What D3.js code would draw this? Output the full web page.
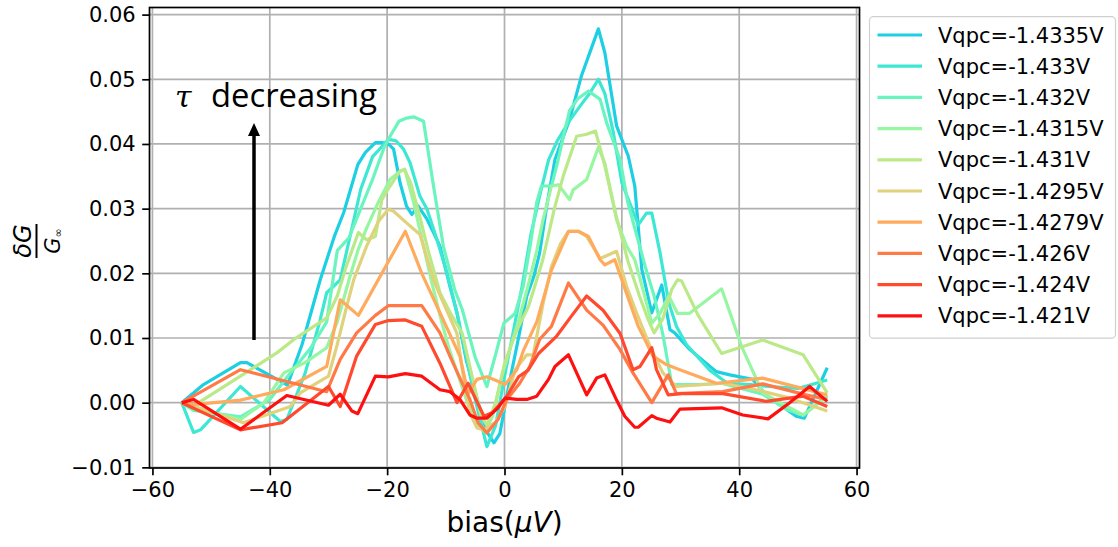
<!DOCTYPE html>
<html><head><meta charset="utf-8">
<script src="https://cdn.jsdelivr.net/npm/d3@7"></script>
<style>body{margin:0;background:#fff} svg{display:block}</style>
</head><body><svg id="c" width="1118" height="547"></svg>
<script>
const labels = ["Vqpc=-1.4335V","Vqpc=-1.433V","Vqpc=-1.432V","Vqpc=-1.4315V","Vqpc=-1.431V","Vqpc=-1.4295V","Vqpc=-1.4279V","Vqpc=-1.426V","Vqpc=-1.424V","Vqpc=-1.421V"];
const colors = ["#1ccfe3","#3ce8d3","#6af5bf","#96f6a2","#bbe988","#e0d27a","#ffab5e","#ff7a47","#ff4a2e","#ff1010"];
const xTicks = [-60,-40,-20,0,20,40,60];
const yTicks = [-0.01,0,0.01,0.02,0.03,0.04,0.05,0.06];

const s1 = [[-55,0],[-51.3,0.0028],[-45,0.0062],[-43.9,0.0062],[-37,0.0027],[-34.5,0.009],[-31.4,0.019],[-29,0.0257],[-27.4,0.0294],[-25,0.0368],[-23.7,0.0387],[-22,0.0402],[-20.9,0.0402],[-19.8,0.04],[-18.9,0.0392],[-17.8,0.034],[-16.7,0.0304],[-15.8,0.0291],[-14.7,0.0304],[-13.3,0.0285],[-12.1,0.0263],[-11,0.0242],[-9.3,0.018],[-8.1,0.0139],[-6.5,0.0065],[-4.5,0.0],[-3,-0.0045],[-1.8,-0.0062],[-0.8,-0.0048],[0.8,0.003],[2.1,0.0087],[3.8,0.0165],[5,0.0195],[6,0.0232],[7.2,0.0304],[8.6,0.0376],[11.1,0.0438],[13.1,0.0505],[16,0.0578],[17.1,0.0541],[19.1,0.0428],[21.1,0.0381],[22.2,0.0335],[23.4,0.0206],[25.1,0.0139],[26.8,0.0182],[28.2,0.0113],[29,0.0108],[31.6,0.0082],[36.1,0.0048],[38.4,0.0043],[42.3,0.0036],[44.6,0.0012],[49.7,-0.0021],[51.1,-0.0024],[55,0.0054]];
const s2 = [[-55,0],[-53,-0.0046],[-51.8,-0.0042],[-45,0.0025],[-38.2,-0.0029],[-37.1,-0.0026],[-34,0.0045],[-31.5,0.0125],[-30.3,0.017],[-28,0.019],[-26.5,0.025],[-24.5,0.033],[-22.5,0.038],[-21,0.0395],[-19.8,0.0407],[-18.5,0.0405],[-17.2,0.0392],[-16.1,0.0371],[-14.4,0.0319],[-13.2,0.0299],[-11.5,0.0252],[-9.8,0.02],[-8.1,0.0139],[-6.5,0.007],[-5,0.0005],[-3,-0.0068],[-1.5,-0.0035],[0,0.004],[1.5,0.011],[3,0.018],[4.5,0.026],[6,0.032],[7.5,0.0375],[9,0.0405],[11,0.0435],[13,0.046],[14.5,0.0478],[16,0.05],[17.1,0.0478],[18.5,0.042],[20,0.034],[21.5,0.0305],[22.8,0.0275],[24.2,0.0293],[25.1,0.0293],[26.5,0.0232],[28,0.0154],[29.3,0.0118],[31,0.009],[35,0.005],[38,0.003],[42,0.0028],[45,0.0025],[50,0.0022],[55,0.0035]];
const s3 = [[-55,0],[-53,-0.0012],[-45,-0.0022],[-40,0.0005],[-37,0.004],[-33,0.0085],[-30.3,0.0125],[-28.5,0.0235],[-26.5,0.0255],[-24.5,0.03],[-22.5,0.0345],[-20.5,0.0395],[-19.5,0.0412],[-18,0.0435],[-16.7,0.044],[-15.5,0.0442],[-13.8,0.0435],[-12.1,0.0335],[-10.4,0.0241],[-8.5,0.0175],[-7.2,0.0144],[-5,0.007],[-3,0.0025],[-1.5,0.0075],[-0.1,0.0123],[1.8,0.0138],[3.2,0.018],[4.5,0.025],[5.5,0.031],[6.3,0.0335],[8,0.0335],[9,0.037],[10,0.041],[11.1,0.0452],[12.5,0.047],[14.3,0.0482],[16.3,0.0469],[17.5,0.043],[19.7,0.0376],[21,0.031],[22.5,0.026],[24,0.021],[25.5,0.0165],[27,0.0105],[28.5,0.0028],[33,0.0028],[37,0.003],[44,0.0013],[48,-0.001],[50.9,-0.002],[55,0.0012]];
const s4 = [[-55,0],[-53,-0.0008],[-45,-0.0026],[-41,0.0],[-37.6,0.0046],[-34,0.0062],[-30.3,0.0085],[-28.5,0.0125],[-26.5,0.019],[-25,0.0235],[-23.5,0.027],[-21.5,0.031],[-19.5,0.0345],[-17.8,0.0358],[-17,0.0361],[-15.5,0.031],[-14,0.025],[-12.5,0.019],[-11,0.0135],[-9.5,0.0085],[-8,0.0045],[-6.5,0.0005],[-5,-0.003],[-3.3,-0.0045],[-2,-0.002],[-0.5,0.004],[1,0.0085],[2.5,0.013],[4,0.018],[5.5,0.0235],[6.5,0.028],[8,0.0335],[9.2,0.0337],[11.1,0.0314],[11.7,0.0329],[14,0.0345],[16,0.0395],[17.1,0.037],[19.1,0.0283],[20.8,0.0242],[22.2,0.0221],[23.6,0.0175],[25.1,0.0123],[26.5,0.0138],[28,0.0165],[29.5,0.0138],[31.5,0.0138],[37,0.0176],[40.5,0.0085],[44,0.0015],[47,0.0],[50.9,-0.0019],[55,0.001]];
const s5 = [[-55,0],[-53,-0.0005],[-45,0.0041],[-38.8,0.0077],[-36,0.0097],[-30.3,0.0131],[-28.5,0.0165],[-27,0.021],[-24.9,0.0263],[-23.5,0.0252],[-22,0.0257],[-20.9,0.0314],[-19.5,0.0335],[-17.8,0.0358],[-17,0.036],[-16,0.034],[-14.5,0.029],[-13,0.0235],[-11,0.017],[-9,0.0135],[-7.2,0.0107],[-5.5,0.004],[-4,-0.002],[-3,-0.0035],[-1.5,0.0],[0,0.006],[2,0.011],[4.1,0.0149],[5.5,0.019],[6.5,0.022],[7.5,0.026],[8.5,0.03],[10,0.035],[12.3,0.0412],[14,0.0415],[15.5,0.042],[17,0.037],[19,0.029],[21,0.022],[23,0.0165],[24.5,0.0128],[25.5,0.0108],[27,0.013],[28.5,0.0175],[29.5,0.019],[30.2,0.0188],[33,0.0135],[37,0.0076],[44,0.0097],[50.9,0.0074],[55,0.0015]];
const s6 = [[-55,0],[-53,-0.0005],[-44.5,-0.0031],[-36.5,-0.0006],[-34.8,0.0015],[-30,0.0041],[-28.5,0.009],[-27,0.0145],[-25.7,0.019],[-23.5,0.0242],[-21.5,0.028],[-19.8,0.0299],[-18.9,0.0296],[-16.7,0.0278],[-14.4,0.026],[-13.5,0.0232],[-12.1,0.019],[-10.4,0.0154],[-8.1,0.0107],[-7,0.004],[-5.9,-0.0016],[-4.7,-0.0039],[-3.6,-0.0042],[-1.6,-0.0031],[0.1,-0.0006],[1.8,0.0051],[3.8,0.0074],[4.9,0.0074],[6.5,0.015],[8,0.021],[9.5,0.0245],[10.9,0.0265],[12.6,0.0265],[14,0.0257],[16.3,0.0223],[19.1,0.0234],[20.8,0.018],[22.5,0.0139],[24.8,0.0087],[27,0.0046],[29.3,0.0025],[37.2,0.003],[42.9,0.002],[48.6,0.0007],[55,-0.0013]];
const s7 = [[-55,0],[-53,-0.0003],[-45,0.0004],[-37.6,0.002],[-30.3,0.0056],[-28,0.0159],[-24.9,0.0135],[-16.9,0.0265],[-14.1,0.02],[-11,0.0139],[-7.6,0.0072],[-6.2,0.0014],[-4.7,0.0036],[-3,0.004],[-1.1,0.0033],[0.1,0.0028],[2.1,0.0051],[3.2,0.008],[5.5,0.0125],[8,0.0205],[10.9,0.0265],[12.6,0.0265],[14.3,0.0257],[16.3,0.0221],[17.1,0.0213],[18.8,0.0221],[20.8,0.0169],[22.8,0.0118],[25.3,0.0072],[27.6,0.0059],[29.3,0.0053],[36.1,0.003],[44,0.0038],[55,0.0012]];
const s8 = [[-55,0],[-45,0.0051],[-30.3,0.0017],[-28,0.0067],[-25.2,0.0108],[-22,0.0135],[-19.8,0.015],[-14.1,0.015],[-11,0.0108],[-9.3,0.0072],[-7.6,0.0038],[-5.9,0.0005],[-4.5,-0.0031],[-3,-0.0047],[-1.1,-0.0026],[0.4,0.0005],[2.6,0.003],[4.3,0.0056],[6,0.0098],[8,0.0118],[10.9,0.0185],[14,0.0143],[16.8,0.012],[19.7,0.0082],[21.9,0.0046],[25.1,0.0],[27.9,0.0043],[29.3,0.0014],[37.2,0.0017],[44,0.0029],[51.4,0.0012],[55,0.0005]];
const s9 = [[-55,0],[-45,-0.0042],[-37.9,-0.0031],[-30,0.0025],[-28,-0.0006],[-25.2,0.0072],[-22,0.0121],[-19.8,0.0127],[-16.9,0.0128],[-14.1,0.0118],[-11,0.0061],[-8.1,0.0],[-6.2,0.003],[-3.5,-0.0021],[-2,-0.0015],[0.4,0.001],[2.4,0.004],[4,0.005],[5.8,0.0076],[8.9,0.0103],[11.5,0.0135],[14,0.0165],[16.8,0.0143],[19.7,0.0107],[21.9,0.0051],[23.1,0.0056],[25.1,0.0085],[25.9,0.0051],[27.9,0.0012],[30.2,0.0014],[37.2,0.0014],[44.6,0.0002],[50.9,0.001],[55,-0.0006]];
const s10 = [[-55,0],[-53,0.0005],[-45,-0.0041],[-37.1,0.0011],[-30,-0.0004],[-28,0.0013],[-26,-0.0013],[-25,-0.0017],[-22,0.0041],[-19.8,0.004],[-16.9,0.0045],[-14.1,0.0041],[-11,0.002],[-9.3,0.0017],[-7.6,0.0005],[-5.9,-0.0019],[-4.7,-0.0024],[-3,-0.0024],[-1.1,-0.0008],[0.1,0.0007],[2.1,0.0005],[3.8,0.0005],[5.5,0.001],[7.5,0.0036],[8.6,0.0056],[10.9,0.0074],[14,0.0012],[15.7,0.0038],[17.1,0.0043],[19.1,0.0004],[20.5,-0.0021],[22.2,-0.0038],[22.8,-0.0038],[25.1,-0.002],[25.9,-0.0024],[28.2,-0.003],[29.9,-0.001],[37,-0.0008],[40.6,-0.0019],[44.9,-0.0025],[48.6,0.0],[52,0.0025],[55,0.0002]];
const series = [s1,s2,s3,s4,s5,s6,s7,s8,s9,s10];

const svg = d3.select("#c");
const m = {left:149.5, right:859.5, top:7.5, bottom:468};
const x = d3.scaleLinear().domain([-60.5,60.5]).range([m.left,m.right]);
const y = d3.scaleLinear().domain([-0.0101,0.0611]).range([m.bottom,m.top]);
const FONT = "'DejaVu Sans', sans-serif";

// grid
const grid = svg.append("g");
grid.selectAll("line.gx").data(xTicks).join("line")
  .attr("x1",d=>x(d)).attr("x2",d=>x(d)).attr("y1",m.top).attr("y2",m.bottom)
  .attr("stroke","#b0b0b0").attr("stroke-width",1.7);
grid.selectAll("line.gy").data(yTicks).join("line")
  .attr("y1",d=>y(d)).attr("y2",d=>y(d)).attr("x1",m.left).attr("x2",m.right)
  .attr("stroke","#b0b0b0").attr("stroke-width",1.7);

// series lines
const line = d3.line().x(d=>x(d[0])).y(d=>y(d[1]));
svg.append("g").selectAll("path").data(series).join("path")
  .attr("d",line).attr("fill","none")
  .attr("stroke",(d,i)=>colors[i]).attr("stroke-width",3.2)
  .attr("stroke-linejoin","round").attr("stroke-linecap","butt");

// axes
const xAxis = svg.append("g").attr("transform",`translate(0,${m.bottom})`)
  .call(d3.axisBottom(x).tickValues(xTicks).tickSize(7.3).tickPadding(6.5).tickFormat(d3.format("d")));
const yAxis = svg.append("g").attr("transform",`translate(${m.left},0)`)
  .call(d3.axisLeft(y).tickValues(yTicks).tickSize(7.3).tickPadding(6.5).tickFormat(d3.format(".2f")));
[xAxis,yAxis].forEach(a=>{
  a.select(".domain").remove();
  a.selectAll(".tick line").attr("stroke","#000").attr("stroke-width",1.7);
  a.selectAll(".tick text").attr("font-family",FONT).attr("font-size",21).attr("fill","#000");
});

// frame
svg.append("rect").attr("x",m.left).attr("y",m.top)
  .attr("width",m.right-m.left).attr("height",m.bottom-m.top)
  .attr("fill","none").attr("stroke","#000").attr("stroke-width",1.7);

// x label
const xl = svg.append("text").attr("x",(m.left+m.right)/2).attr("y",532)
  .attr("text-anchor","middle").attr("font-family",FONT).attr("font-size",28).attr("fill","#000");
xl.append("tspan").text("bias(");
xl.append("tspan").attr("font-style","italic").text("μV");
xl.append("tspan").text(")");

// y label (fraction)
const yl = svg.append("g").attr("transform","translate(36.5,241) rotate(-90)");
yl.append("text").attr("x",0).attr("y",-6).attr("text-anchor","middle")
  .attr("font-family",FONT).attr("font-style","italic").attr("font-size",24).text("δG");
yl.append("line").attr("x1",-17).attr("x2",17).attr("y1",0).attr("y2",0)
  .attr("stroke","#000").attr("stroke-width",2);
const den = yl.append("text").attr("x",0).attr("y",23).attr("text-anchor","middle")
  .attr("font-family",FONT).attr("font-size",21);
den.append("tspan").attr("font-style","italic").text("G");
den.append("tspan").attr("font-size",11).attr("dy",2).text("∞");

// annotation
svg.append("text").attr("x",175).attr("y",107).attr("font-family","'DejaVu Serif', serif")
  .attr("font-style","italic").attr("font-size",30).text("τ");
svg.append("text").attr("x",211).attr("y",107).attr("font-family","'Open Sans', sans-serif")
  .attr("font-size",32).attr("textLength",166).attr("lengthAdjust","spacingAndGlyphs").text("decreasing");
svg.append("line").attr("x1",254).attr("x2",254).attr("y1",340).attr("y2",134)
  .attr("stroke","#000").attr("stroke-width",3.5);
svg.append("path").attr("d","M254,123 L248,136 L260,136 Z").attr("fill","#000");

// legend
const lg = svg.append("g");
lg.append("rect").attr("x",869.5).attr("y",16.7).attr("width",246).attr("height",321.5)
  .attr("rx",4).attr("fill","#fff").attr("fill-opacity",0.8)
  .attr("stroke","#d0d0d0").attr("stroke-width",1.2);
const items = lg.selectAll("g.it").data(labels).join("g")
  .attr("transform",(d,i)=>`translate(0,${35+i*31.2})`);
items.append("line").attr("x1",877.5).attr("x2",922).attr("y1",0).attr("y2",0)
  .attr("stroke",(d,i)=>colors[i]).attr("stroke-width",3.2);
items.append("text").attr("x",938).attr("y",0).attr("dy","0.36em")
  .attr("font-family",FONT).attr("font-size",21).attr("fill","#000").text(d=>d);
</script></body></html>
